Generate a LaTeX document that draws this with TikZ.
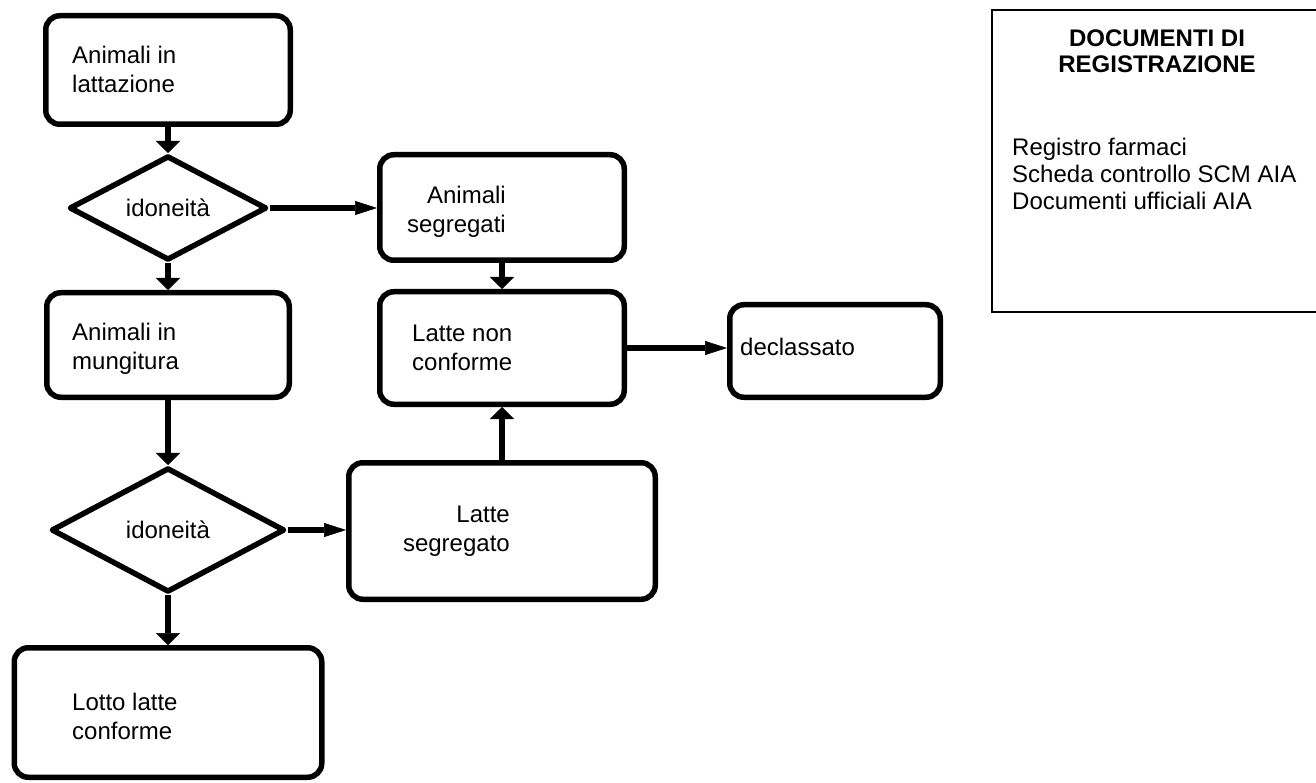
\documentclass[tikz,border=0pt]{standalone}
\usepackage{fontspec}
\setmainfont{Liberation Sans}
\usetikzlibrary{shapes.geometric}
\usetikzlibrary{arrows.meta}

\begin{document}
\begin{tikzpicture}[x=1pt, y=-1pt,
		box/.style={draw, rounded corners=14pt, line width=5.5pt, inner sep=0pt},
		dia/.style={draw, diamond, line width=5.5pt, line join=round, inner sep=0pt, font=\fontsize{24}{29}\selectfont},
		lbl/.style={inner sep=0pt, font=\fontsize{24}{29}\selectfont},
		docbox/.style={draw, line width=2pt, inner sep=0pt},
		varr/.style={line width=6pt, -{Triangle[length=12pt, width=24pt, line width=0.5pt]}},
		harr/.style={line width=6pt, -{Triangle[length=22pt, width=14pt, line width=0.5pt]}}]
			\useasboundingbox (0,0) rectangle (1316,783);
			% Left column
			\node[box, minimum width=244.5pt, minimum height=108.5pt] (latt) at (168,70) {};
			\node[dia, minimum width=197.5pt, minimum height=104.5pt] (ido1) at (168,208) {idoneità};
			\node[box, minimum width=242.5pt, minimum height=104.5pt] (mung) at (168,345) {};
			\node[dia, minimum width=233.5pt, minimum height=124.5pt] (ido2) at (168,530) {idoneità};
			\node[box, minimum width=307.5pt, minimum height=129.5pt] (lotto) at (168,712.5) {};
			% Middle column
			\node[box, minimum width=244.5pt, minimum height=105.5pt] (aseg) at (502,207.5) {};
			\node[box, minimum width=244.5pt, minimum height=112.5pt] (lnc) at (502,348) {};
			\node[box, minimum width=306.5pt, minimum height=136.5pt] (lseg) at (502,531) {};
			\node[box, minimum width=210.5pt, minimum height=92.5pt] (decl) at (835,351) {};
			% Texts of the boxes
			\node[lbl, align=left, anchor=north west] (lattT) at (72,46) {Animali in\\lattazione};
			\node[lbl, align=left, anchor=north west] (mungT) at (72,323) {Animali in\\mungitura};
			\node[lbl, align=left, anchor=north west] (lottoT) at (72,693) {Lotto latte\\conforme};
			\node[lbl, align=right, anchor=north east] (asegT) at (506,186) {Animali\\segregati};
			\node[lbl, align=left, anchor=north west] (lncT) at (412,325) {Latte non\\conforme};
			\node[lbl, align=right, anchor=north east] (lsegT) at (510,506) {Latte\\segregato};
			\node[lbl, anchor=north west] (declT) at (740,338) {declassato};
			% Documents
			\node[docbox, minimum width=338pt, minimum height=302pt] (docs) at (1161,161) {};
			\node[lbl, align=center, anchor=north, font=\fontsize{24}{26}\selectfont\bfseries] (docsT) at (1157,30) {DOCUMENTI DI\\REGISTRAZIONE};
			\node[lbl, align=left, anchor=north west, font=\fontsize{24}{27}\selectfont] (docsL) at (1012,138) {Registro farmaci\\Scheda controllo SCM AIA\\Documenti ufficiali AIA};
			% Arrows
			\draw[varr] (latt) -- (ido1);
			\draw[varr] (ido1) -- (mung);
			\draw[varr] (mung) -- (ido2);
			\draw[varr] (ido2) -- (lotto);
			\draw[harr] (ido1.east) -- (ido1.east -| aseg.west);
			\draw[varr] (aseg) -- (lnc);
			\draw[varr] (lseg) -- (lnc);
			\draw[harr] (ido2.east) -- (ido2.east -| lseg.west);
			\draw[harr] (lnc.east) -- (lnc.east -| decl.west);
\end{tikzpicture}
\end{document}
